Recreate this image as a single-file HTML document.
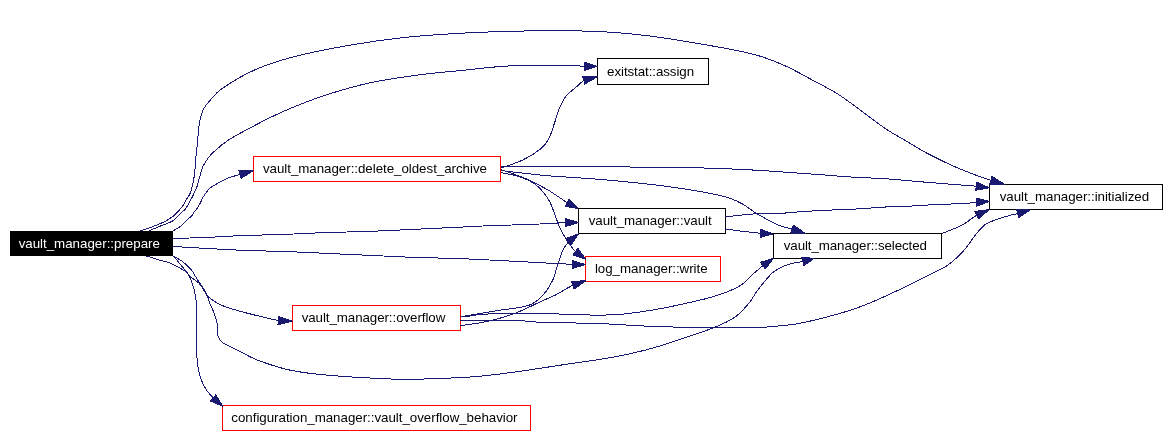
<!DOCTYPE html><html><head><meta charset="utf-8"><style>html,body{margin:0;padding:0;background:#fff;width:1170px;height:439px;overflow:hidden}svg{display:block}text{font-family:"Liberation Sans",sans-serif;font-size:13.333px}</style></head><body>
<svg width="1170" height="439" viewBox="0 0 1170 439">
<rect width="1170" height="439" fill="#fff"/>
<rect x="10" y="231" width="163" height="25" fill="#000"/>
<rect x="597.5" y="58.5" width="111" height="26" fill="#fff" stroke="#000" stroke-width="1"/>
<rect x="253.5" y="156.5" width="247" height="25" fill="#fff" stroke="#ff0000" stroke-width="1"/>
<rect x="989.5" y="184.5" width="173" height="25" fill="#fff" stroke="#000" stroke-width="1"/>
<rect x="578.5" y="208.5" width="147" height="25" fill="#fff" stroke="#000" stroke-width="1"/>
<rect x="773.5" y="233.5" width="168" height="25" fill="#fff" stroke="#000" stroke-width="1"/>
<rect x="585.5" y="256.5" width="135" height="25" fill="#fff" stroke="#ff0000" stroke-width="1"/>
<rect x="292.5" y="305.5" width="168" height="25" fill="#fff" stroke="#ff0000" stroke-width="1"/>
<rect x="222.5" y="405.5" width="308" height="25" fill="#fff" stroke="#ff0000" stroke-width="1"/>
<g fill="none" stroke="#191970" stroke-width="1" shape-rendering="crispEdges">
<path d="M140.50,231.00C142.72,230.20 149.72,227.80 153.80,226.20C157.88,224.60 161.80,223.03 165.00,221.40C168.20,219.77 171.13,217.73 173.00,216.40C174.87,215.07 174.87,214.77 176.20,213.40C177.53,212.03 179.68,209.80 181.00,208.20C182.32,206.60 183.27,205.17 184.10,203.80C184.93,202.43 184.97,201.80 186.00,200.00C187.03,198.20 189.12,195.87 190.30,193.00C191.48,190.13 192.35,186.40 193.10,182.80C193.85,179.20 194.38,175.20 194.80,171.40C195.22,167.60 195.25,163.92 195.60,160.00C195.95,156.08 196.25,154.18 196.90,147.90C197.55,141.62 198.43,128.68 199.50,122.30C200.57,115.92 201.53,113.27 203.30,109.60C205.07,105.93 206.88,103.87 210.10,100.30C213.32,96.73 215.08,93.30 222.60,88.20C230.12,83.10 243.08,75.00 255.20,69.70C267.32,64.40 279.42,60.50 295.30,56.40C311.18,52.30 332.53,48.23 350.50,45.10C368.47,41.97 384.93,39.57 403.10,37.60C421.27,35.63 441.67,34.35 459.50,33.30C477.33,32.25 495.02,31.72 510.10,31.30C525.18,30.88 536.22,30.80 550.00,30.80C563.78,30.80 578.57,30.72 592.80,31.30C607.03,31.88 619.93,32.62 635.40,34.30C650.87,35.98 666.50,38.22 685.60,41.40C704.70,44.58 733.83,49.52 750.00,53.40C766.17,57.28 772.15,60.23 782.60,64.70C793.05,69.17 803.52,75.32 812.70,80.20C821.88,85.08 829.90,89.12 837.70,94.00C845.50,98.88 853.23,104.95 859.50,109.50C865.77,114.05 870.52,117.80 875.30,121.30C880.08,124.80 882.87,127.12 888.20,130.50C893.53,133.88 901.38,138.10 907.30,141.60C913.22,145.10 918.00,148.35 923.70,151.50C929.40,154.65 936.25,157.93 941.50,160.50C946.75,163.07 949.50,164.47 955.20,166.90C960.90,169.33 969.76,172.88 975.70,175.10C981.64,177.32 988.33,179.39 990.85,180.25"/>
<path d="M148.70,231.00C150.75,230.13 157.07,227.45 161.00,225.80C164.93,224.15 168.88,223.33 172.30,221.10C175.72,218.87 179.27,214.50 181.50,212.40C183.73,210.30 183.87,211.15 185.70,208.50C187.53,205.85 190.60,200.22 192.50,196.50C194.40,192.78 195.87,189.62 197.10,186.20C198.33,182.78 198.95,179.23 199.90,176.00C200.85,172.77 201.65,169.47 202.80,166.80C203.95,164.13 205.12,162.35 206.80,160.00C208.48,157.65 209.23,156.05 212.90,152.70C216.57,149.35 220.82,144.97 228.80,139.90C236.78,134.83 250.97,127.37 260.80,122.30C270.63,117.23 277.03,114.02 287.80,109.50C298.57,104.98 311.62,99.67 325.40,95.20C339.18,90.73 354.63,86.12 370.50,82.70C386.37,79.28 405.77,76.70 420.60,74.70C435.43,72.70 444.60,72.17 459.50,70.70C474.40,69.23 491.95,66.73 510.00,65.90C528.05,65.07 555.43,65.63 567.80,65.70C580.17,65.77 581.47,66.20 584.20,66.30"/>
<path d="M172.80,231.00C173.90,230.35 177.52,228.42 179.40,227.10C181.28,225.78 182.52,224.57 184.10,223.10C185.68,221.63 187.50,219.65 188.90,218.30C190.30,216.95 191.57,216.13 192.50,215.00C193.43,213.87 193.77,212.53 194.50,211.50C195.23,210.47 196.10,209.92 196.90,208.80C197.70,207.68 198.50,206.27 199.30,204.80C200.10,203.33 201.12,201.20 201.70,200.00C202.28,198.80 201.48,199.52 202.80,197.60C204.12,195.68 207.13,190.87 209.60,188.50C212.07,186.13 214.55,185.12 217.60,183.40C220.65,181.68 224.15,179.70 227.90,178.20C231.65,176.70 238.07,175.03 240.10,174.40"/>
<path d="M146.40,256.00C148.78,256.73 156.77,259.23 160.70,260.40C164.63,261.57 167.12,261.90 170.00,263.00C172.88,264.10 175.33,265.53 178.00,267.00C180.67,268.47 184.13,270.35 186.00,271.80C187.87,273.25 188.28,274.12 189.20,275.70C190.12,277.28 190.70,279.03 191.50,281.30C192.30,283.57 193.25,286.18 194.00,289.30C194.75,292.42 195.58,295.72 196.00,300.00C196.42,304.28 196.42,306.22 196.50,315.00C196.58,323.78 196.35,345.20 196.50,352.70C196.65,360.20 197.07,357.07 197.40,360.00C197.73,362.93 197.65,366.50 198.50,370.30C199.35,374.10 201.07,379.38 202.50,382.80C203.93,386.22 205.33,388.28 207.10,390.80C208.87,393.32 212.10,396.72 213.10,397.90"/>
<path d="M173.00,256.00C173.95,256.52 176.83,257.95 178.70,259.10C180.57,260.25 182.00,260.98 184.20,262.90C186.40,264.82 190.18,268.58 191.90,270.60C193.62,272.62 193.23,273.00 194.50,275.00C195.77,277.00 197.93,280.23 199.50,282.60C201.07,284.97 202.62,287.02 203.90,289.20C205.18,291.38 206.15,293.20 207.20,295.70C208.25,298.20 209.07,301.32 210.20,304.20C211.33,307.08 212.87,309.93 214.00,313.00C215.13,316.07 216.37,318.93 217.00,322.60C217.63,326.27 216.87,331.67 217.80,335.00C218.73,338.33 218.88,339.87 222.60,342.60C226.32,345.33 234.25,348.47 240.10,351.40C245.95,354.33 249.33,357.07 257.70,360.20C266.07,363.33 278.62,367.70 290.30,370.20C301.98,372.70 311.10,373.73 327.80,375.20C344.50,376.67 375.13,378.35 390.50,379.00C405.87,379.65 409.50,379.28 420.00,379.10C430.50,378.92 443.50,378.38 453.50,377.90C463.50,377.42 469.63,377.20 480.00,376.20C490.37,375.20 501.77,373.82 515.70,371.90C529.63,369.98 547.65,367.10 563.60,364.70C579.55,362.30 597.45,360.02 611.40,357.50C625.35,354.98 635.33,352.78 647.30,349.60C659.27,346.42 672.02,342.10 683.20,338.40C694.38,334.70 705.78,330.93 714.40,327.40C723.02,323.87 729.10,321.30 734.90,317.20C740.70,313.10 745.45,307.25 749.20,302.80C752.95,298.35 754.67,294.25 757.40,290.50C760.13,286.75 762.80,283.48 765.60,280.30C768.40,277.12 770.50,274.02 774.20,271.40C777.90,268.78 783.02,266.24 787.80,264.60C792.57,262.96 800.34,262.06 802.85,261.55"/>
<path d="M173.00,256.00C173.60,256.62 175.28,258.18 176.60,259.70C177.92,261.22 179.27,263.10 180.90,265.10C182.53,267.10 184.93,269.88 186.40,271.70C187.87,273.52 188.43,274.73 189.70,276.00C190.97,277.27 192.37,278.02 194.00,279.30C195.63,280.58 197.83,281.83 199.50,283.70C201.17,285.57 202.67,288.45 204.00,290.50C205.33,292.55 205.83,294.25 207.50,296.00C209.17,297.75 211.43,299.37 214.00,301.00C216.57,302.63 218.55,304.08 222.90,305.80C227.25,307.52 233.05,309.33 240.10,311.30C247.15,313.27 258.85,316.07 265.20,317.60C271.55,319.13 276.03,320.02 278.20,320.50"/>
<path d="M173.00,238.60 L189.70,238.00 L215.20,237.00 L232.90,236.00 L262.40,235.00 L293.80,234.00 L315.50,233.00 L346.90,232.00 L378.40,231.00 L400.50,230.00 L421.00,229.00 L442.40,228.00 L462.90,227.00 L482.60,226.00 L511.60,225.00 L539.80,224.00 L557.70,223.00 L565.10,222.60"/>
<path d="M173.00,246.50 L181.70,247.00 L198.70,248.00 L217.00,249.00 L236.00,250.00 L266.00,251.00 L297.00,252.00 L319.00,253.00 L339.60,254.00 L362.00,255.00 L383.20,256.00 L404.80,257.00 L437.70,258.00 L468.70,259.00 L489.40,260.00 L509.20,261.00 L528.00,262.00 L545.80,263.00 L565.60,264.00 L572.10,264.50"/>
<path d="M501.00,168.00C504.63,166.67 516.13,163.23 522.80,160.00C529.47,156.77 536.63,152.22 541.00,148.60C545.37,144.98 546.72,142.67 549.00,138.30C551.28,133.93 553.00,127.33 554.70,122.40C556.40,117.47 557.32,113.07 559.20,108.70C561.08,104.33 562.97,99.98 566.00,96.20C569.03,92.42 574.45,88.67 577.40,86.00C580.35,83.33 582.65,81.17 583.70,80.20"/>
<path d="M500.70,166.50C506.58,166.47 519.45,166.25 536.00,166.30C552.55,166.35 578.05,166.63 600.00,166.80C621.95,166.97 648.73,167.05 667.70,167.30C686.67,167.55 698.75,167.80 713.80,168.30C728.85,168.80 745.30,169.60 758.00,170.30C770.70,171.00 778.83,171.72 790.00,172.50C801.17,173.28 814.92,174.25 825.00,175.00C835.08,175.75 839.87,176.33 850.50,177.00C861.13,177.67 876.27,178.13 888.80,179.00C901.33,179.87 911.12,181.00 925.70,182.20C940.28,183.40 967.87,185.53 976.30,186.20"/>
<path d="M500.70,169.50C504.88,171.03 518.20,175.45 525.80,178.70C533.40,181.95 540.93,186.03 546.30,189.00C551.67,191.97 554.50,194.20 558.00,196.50C561.50,198.80 565.75,201.75 567.30,202.80"/>
<path d="M500.70,172.60C503.85,173.28 513.72,174.65 519.60,176.70C525.48,178.75 531.22,181.15 536.00,184.90C540.78,188.65 545.22,194.42 548.30,199.20C551.38,203.98 552.72,209.13 554.50,213.60C556.28,218.07 557.50,222.50 559.00,226.00C560.50,229.50 561.95,231.85 563.50,234.60C565.05,237.35 566.32,239.65 568.30,242.50C570.28,245.35 574.22,250.17 575.40,251.70"/>
<path d="M500.70,170.50C508.30,171.35 529.75,174.12 546.30,175.60C562.85,177.08 580.80,177.72 600.00,179.40C619.20,181.08 644.42,183.62 661.50,185.70C678.58,187.78 691.23,189.85 702.50,191.90C713.77,193.95 722.28,195.90 729.10,198.00C735.92,200.10 738.97,202.00 743.40,204.50C747.83,207.00 751.93,210.62 755.70,213.00C759.47,215.38 762.30,216.80 766.00,218.80C769.70,220.80 773.55,223.28 777.90,225.00C782.25,226.72 789.73,228.46 792.10,229.15"/>
<path d="M725.50,216.40C726.42,216.37 728.58,216.40 731.00,216.20C733.42,216.00 735.88,215.60 740.00,215.20C744.12,214.80 748.58,214.13 755.70,213.80C762.82,213.47 775.02,213.57 782.70,213.20C790.38,212.83 793.92,212.12 801.80,211.60C809.68,211.08 821.43,210.50 830.00,210.10C838.57,209.70 843.63,209.73 853.20,209.20C862.77,208.67 877.60,207.43 887.40,206.90C897.20,206.37 904.25,206.37 912.00,206.00C919.75,205.63 924.78,205.15 933.90,204.70C943.02,204.25 959.63,203.72 966.70,203.30C973.77,202.88 974.70,202.38 976.30,202.20"/>
<path d="M725.50,229.60C726.42,229.63 727.75,229.47 731.00,229.80C734.25,230.13 740.10,231.02 745.00,231.60C749.90,232.18 757.83,233.02 760.40,233.30"/>
<path d="M941.70,233.60C944.00,232.68 951.60,229.82 955.50,228.10C959.40,226.38 962.43,224.88 965.10,223.30C967.77,221.72 969.58,219.95 971.50,218.60C973.42,217.25 975.75,215.77 976.60,215.20"/>
<path d="M460.50,316.80C466.42,315.80 484.62,312.72 496.00,310.80C507.38,308.88 520.82,308.10 528.80,305.30C536.78,302.50 539.90,298.22 543.90,294.00C547.90,289.78 550.87,283.67 552.80,280.00C554.73,276.33 554.52,275.05 555.50,272.00C556.48,268.95 557.37,265.55 558.70,261.70C560.03,257.85 561.83,252.22 563.50,248.90C565.17,245.58 567.83,242.94 568.70,241.75"/>
<path d="M460.50,325.60C461.08,325.53 459.22,325.97 464.00,325.20C468.78,324.43 480.45,323.08 489.20,321.00C497.95,318.92 508.07,315.87 516.50,312.70C524.93,309.53 533.30,304.95 539.80,302.00C546.30,299.05 551.30,297.08 555.50,295.00C559.70,292.92 562.13,291.13 565.00,289.50C567.87,287.87 571.42,285.92 572.70,285.20"/>
<path d="M460.50,316.50C462.08,316.42 466.75,316.32 470.00,316.00C473.25,315.68 475.00,315.00 480.00,314.60C485.00,314.20 488.22,313.77 500.00,313.60C511.78,313.43 540.37,313.47 550.70,313.60C561.03,313.73 557.97,314.20 562.00,314.40C566.03,314.60 565.92,314.75 574.90,314.80C583.88,314.85 602.92,315.50 615.90,314.70C628.88,313.90 641.52,311.82 652.80,310.00C664.08,308.18 673.33,306.08 683.60,303.80C693.87,301.52 705.17,299.20 714.40,296.30C723.63,293.40 732.45,290.20 739.00,286.40C745.55,282.60 749.72,276.96 753.70,273.50C757.68,270.04 761.37,266.96 762.90,265.65"/>
<path d="M460.50,320.50C467.08,320.52 489.58,320.53 500.00,320.60C510.42,320.67 516.33,320.63 523.00,320.90C529.67,321.17 526.92,321.73 540.00,322.20C553.08,322.67 582.70,323.00 601.50,323.70C620.30,324.40 633.98,325.72 652.80,326.40C671.62,327.08 697.57,327.57 714.40,327.80C731.23,328.03 742.87,328.13 753.80,327.80C764.73,327.47 771.45,326.72 780.00,325.80C788.55,324.88 792.37,325.23 805.10,322.30C817.83,319.37 840.58,313.68 856.40,308.20C872.22,302.72 887.73,295.03 900.00,289.40C912.27,283.77 922.33,278.23 930.00,274.40C937.67,270.57 941.22,269.47 946.00,266.40C950.78,263.33 954.98,259.58 958.70,256.00C962.42,252.42 965.37,248.62 968.30,244.90C971.23,241.18 973.38,237.17 976.30,233.70C979.22,230.23 982.35,226.48 985.80,224.10C989.25,221.72 993.02,220.85 997.00,219.40C1000.98,217.95 1006.25,216.37 1009.70,215.40C1013.15,214.43 1016.37,213.90 1017.70,213.60"/>
</g>
<g fill="#191970" stroke="#191970" stroke-width="1" stroke-linejoin="round" shape-rendering="crispEdges">
<polygon points="989.67,184.18 1004.60,184.40 992.03,176.32"/>
<polygon points="584.20,70.40 597.20,66.30 584.20,62.20"/>
<polygon points="241.25,178.34 253.50,170.50 238.95,170.46"/>
<polygon points="210.40,400.99 222.50,406.10 215.80,394.81"/>
<polygon points="803.98,265.49 814.50,258.20 801.72,257.61"/>
<polygon points="277.97,324.59 292.50,321.30 278.43,316.41"/>
<polygon points="565.13,226.70 578.50,222.50 565.07,218.50"/>
<polygon points="572.07,268.60 585.30,264.60 572.13,260.40"/>
<polygon points="584.72,84.17 597.30,76.70 582.68,76.23"/>
<polygon points="975.80,190.27 989.40,187.80 976.80,182.13"/>
<polygon points="565.37,206.42 578.00,208.50 569.23,199.18"/>
<polygon points="572.98,255.01 585.80,259.30 577.82,248.39"/>
<polygon points="790.85,233.06 805.40,233.40 793.35,225.24"/>
<polygon points="976.52,206.29 989.40,201.50 976.08,198.11"/>
<polygon points="760.21,237.40 773.10,233.90 760.59,229.20"/>
<polygon points="978.27,218.95 989.20,209.60 974.93,211.45"/>
<polygon points="571.27,244.95 578.60,233.80 566.13,238.55"/>
<polygon points="574.01,289.09 585.80,280.80 571.39,281.31"/>
<polygon points="765.21,269.03 773.50,258.40 760.59,262.27"/>
<polygon points="1018.83,217.54 1030.20,210.00 1016.57,209.66"/>
</g>
<g style="will-change:transform"><text x="18.65" y="247.6" fill="#fff" letter-spacing="-0.014">vault_manager::prepare</text><text x="607.09" y="75.6" fill="#000" letter-spacing="-0.079">exitstat::assign</text><text x="262.95" y="173.1" fill="#000" letter-spacing="-0.036">vault_manager::delete_oldest_archive</text><text x="999.65" y="201.1" fill="#000" letter-spacing="-0.038">vault_manager::initialized</text><text x="588.75" y="225.1" fill="#000" letter-spacing="-0.044">vault_manager::vault</text><text x="783.75" y="250.1" fill="#000" letter-spacing="-0.092">vault_manager::selected</text><text x="594.91" y="273.1" fill="#000" letter-spacing="-0.039">log_manager::write</text><text x="301.65" y="322.1" fill="#000" letter-spacing="-0.072">vault_manager::overflow</text><text x="231.30" y="422.1" fill="#000" letter-spacing="-0.027">configuration_manager::vault_overflow_behavior</text></g>
</svg></body></html>
